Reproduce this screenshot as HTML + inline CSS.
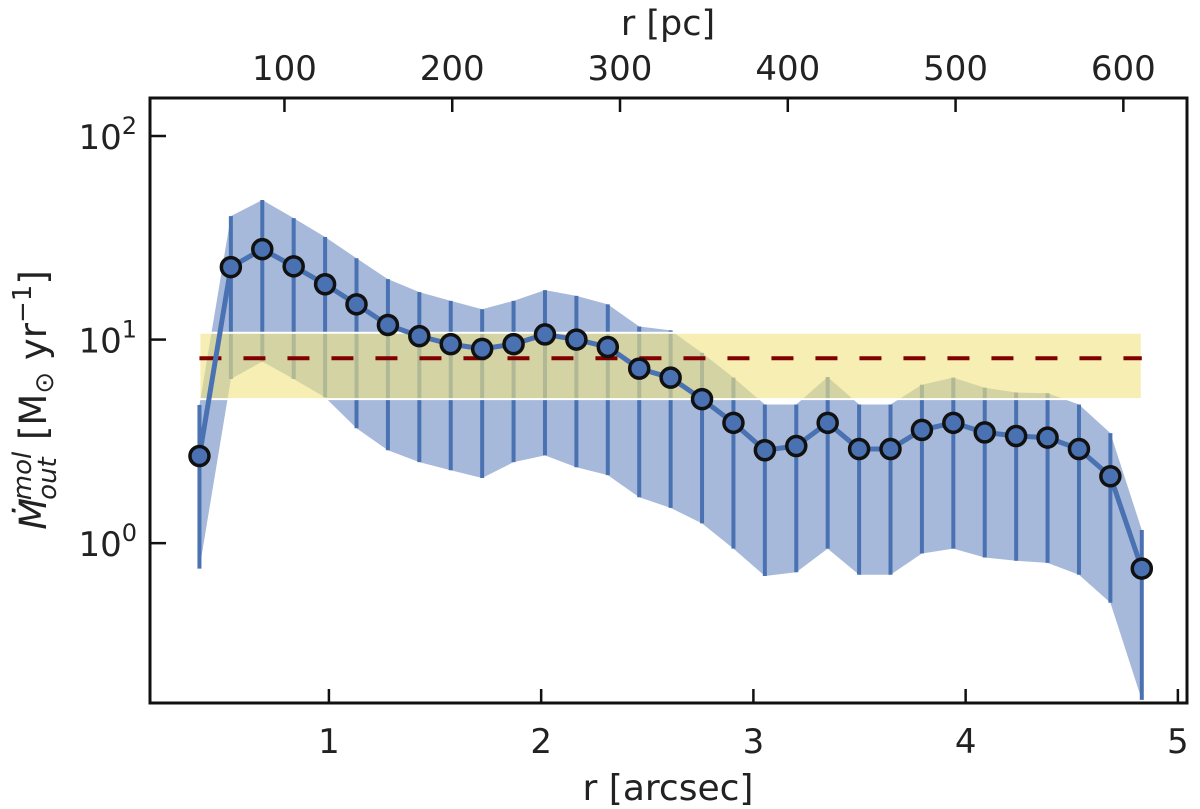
<!DOCTYPE html>
<html><head><meta charset="utf-8"><style>
html,body{margin:0;padding:0;background:#fff;}
svg{display:block;font-family:"DejaVu Sans","Liberation Sans",sans-serif;}
</style></head><body>
<svg id="chart" width="1200" height="809" viewBox="0 0 1200 809">
<g id="plot"></g>
</svg>
<script>
const rArcsec = [0.39,0.538,0.686,0.834,0.982,1.13,1.278,1.426,1.574,1.722,1.87,2.018,2.166,2.314,2.462,2.61,2.758,2.906,3.054,3.202,3.35,3.498,3.646,3.794,3.942,4.09,4.238,4.386,4.534,4.682,4.83];
const mdot = [2.68,22.7,27.8,22.9,18.7,14.9,11.8,10.4,9.5,9.0,9.5,10.6,10.0,9.2,7.2,6.5,5.1,3.9,2.86,3.0,3.9,2.9,2.9,3.6,3.9,3.5,3.36,3.3,2.9,2.13,0.75];
const mdotHigh = [4.77,40.4,48.5,39.5,31.9,25.1,19.8,17.1,15.5,14.1,15.5,17.5,16.4,14.9,11.6,11.1,8.6,6.5,4.8,4.8,6.55,4.8,4.8,6.0,6.5,5.8,5.5,5.45,4.8,3.47,1.16];
const mdotLow = [0.75,6.4,7.8,6.4,5.2,3.67,2.86,2.5,2.28,2.09,2.5,2.7,2.36,2.16,1.68,1.49,1.25,0.94,0.69,0.72,0.94,0.70,0.70,0.89,0.94,0.85,0.82,0.80,0.70,0.51,0.17];
const meanRate = [8.1];
const rangeRate = [5.1, 10.8];
const xTicks = [1,2,3,4,5];
const pcTicks = [100,200,300,400,500,600];
const yTicks = [0,1,2];
const pcPerArcsec = 126.5;

const L=150,R=1187,T=98,B=703;
const X0=0.157,X1=5.043, Y0=Math.log10(0.164), Y1=Math.log10(153.7);
const sx=v=>L+(v-X0)/(X1-X0)*(R-L);
const sy=v=>B-(Math.log10(v)-Y0)/(Y1-Y0)*(B-T);
const NS="http://www.w3.org/2000/svg";
const g=document.getElementById('plot');
function mk(tag,attrs,parent){const e=document.createElementNS(NS,tag);for(const k in attrs)e.setAttribute(k,attrs[k]);(parent||g).appendChild(e);return e;}

let pts=rArcsec.map((x,i)=>sx(x)+','+sy(mdotHigh[i]));
pts=pts.concat(rArcsec.map((x,i)=>sx(x)+','+sy(mdotLow[i])).reverse());
let band=mk('polygon',{points:pts.join(' '),fill:'#a6b9da'});


rArcsec.forEach((x,i)=>{
  let eb=mk('line',{x1:sx(x),x2:sx(x),y1:sy(mdotHigh[i]),y2:sy(mdotLow[i]),stroke:'#4a72b2','stroke-width':4});
  
  
});
let yb=mk('rect',{x:sx(rArcsec[0]),y:sy(rangeRate[1]),width:sx(rArcsec[rArcsec.length-1])-sx(rArcsec[0]),height:sy(rangeRate[0])-sy(rangeRate[1]),fill:'rgba(240,228,130,0.62)',stroke:'#fff','stroke-width':2});


let dl=mk('line',{x1:sx(rArcsec[0]),x2:sx(rArcsec[rArcsec.length-1]),y1:sy(meanRate[0]),y2:sy(meanRate[0]),stroke:'#800000','stroke-width':4,'stroke-dasharray':'22 22'});


let ln=mk('polyline',{points:rArcsec.map((x,i)=>sx(x)+','+sy(mdot[i])).join(' '),fill:'none',stroke:'#4a72b2','stroke-width':5});


rArcsec.forEach((x,i)=>{
  let c=mk('circle',{cx:sx(x),cy:sy(mdot[i]),r:9.5,fill:'#4a72b2',stroke:'#111','stroke-width':3.5});
  
  
});
let fr=mk('rect',{x:L,y:T,width:R-L,height:B-T,fill:'none',stroke:'#111','stroke-width':3});


xTicks.forEach(v=>{
  let t=mk('line',{x1:sx(v),x2:sx(v),y1:B,y2:B-14,stroke:'#111','stroke-width':2.5});
  
  
  let tx=mk('text',{x:sx(v),y:B+50,'text-anchor':'middle','font-size':34,fill:'#222'});
  tx.textContent=v;
  
  
});
pcTicks.forEach(v=>{
  const x=sx(v/pcPerArcsec);
  let t=mk('line',{x1:x,x2:x,y1:T,y2:T+14,stroke:'#111','stroke-width':2.5});
  
  
  let tx=mk('text',{x:x,y:T-18,'text-anchor':'middle','font-size':34,fill:'#222'});
  tx.textContent=v;
  
  
});
yTicks.forEach(p=>{
  const y=sy(Math.pow(10,p));
  let t=mk('line',{x1:L,x2:L+16,y1:y,y2:y,stroke:'#111','stroke-width':2.5});
  
  
  let tx=mk('text',{x:L-13,y:y+13,'text-anchor':'end','font-size':34,fill:'#222'});
  tx.innerHTML='10<tspan dy="-15" font-size="24">'+p+'</tspan>';
  
  
});
</script>
<script>
(function(){
const NS="http://www.w3.org/2000/svg";const s=document.getElementById('chart');
function t(attrs,html,name){const e=document.createElementNS(NS,'text');for(const k in attrs)e.setAttribute(k,attrs[k]);e.innerHTML=html;


s.appendChild(e);}
t({x:668,y:800,'text-anchor':'middle','font-size':36,fill:'#222'},'r [arcsec]','x-axis-title');
t({x:668,y:35,'text-anchor':'middle','font-size':35,fill:'#222'},'r [pc]','top-x-axis-title');
t({x:0,y:0,'text-anchor':'middle','font-size':37,fill:'#222',transform:'translate(46,400) rotate(-90)'},
 '<tspan font-style="italic">Ṁ</tspan><tspan font-style="italic" font-size="26" dy="10" dx="-2">out</tspan><tspan font-style="italic" font-size="26" dy="-25" dx="-43">mol</tspan><tspan dy="15"> [M</tspan><tspan font-size="26" dy="7">⊙</tspan><tspan dy="-7"> yr</tspan><tspan font-size="26" dy="-15">−1</tspan><tspan dy="15">]</tspan>','y-axis-title');
})();
</script>
</body></html>
